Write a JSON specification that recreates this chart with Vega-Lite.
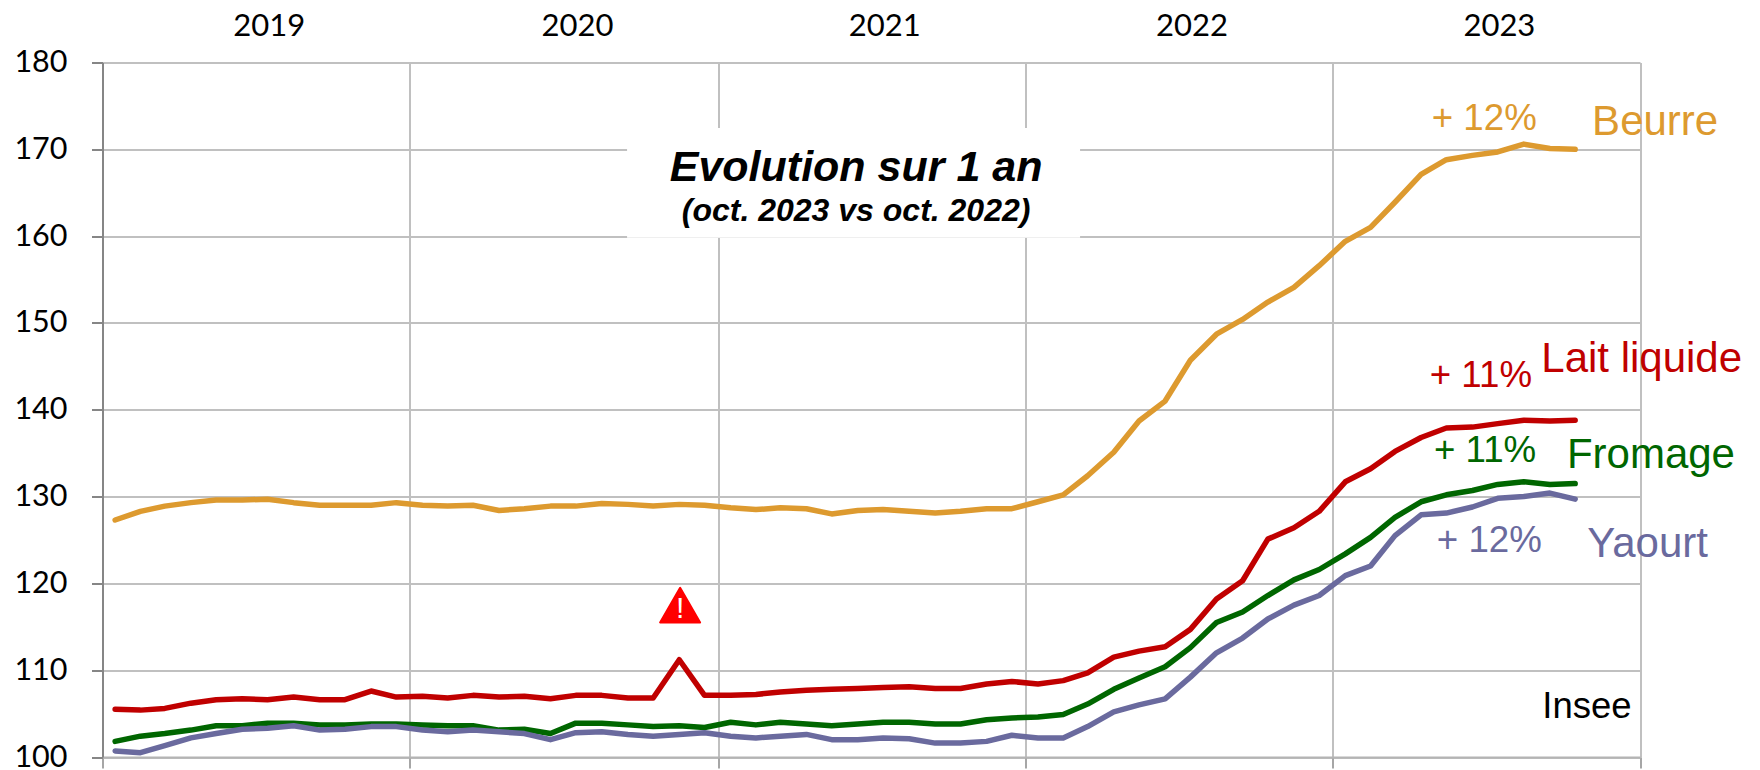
{
"$schema":"https://vega.github.io/schema/vega-lite/v6.json",
"width":1537.5,"height":694.5,
"autosize":"none",
"padding":{"left":102.5,"top":62.5,"right":120,"bottom":13},
"background":"white",
"config":{"view":{"stroke":null}},
"datasets":{
"series":[
{"s":"Beurre","d":"2019-01-16","v":127.3},{"s":"Beurre","d":"2019-02-15","v":128.3},{"s":"Beurre","d":"2019-03-16","v":128.9},{"s":"Beurre","d":"2019-04-16","v":129.3},{"s":"Beurre","d":"2019-05-16","v":129.6},{"s":"Beurre","d":"2019-06-16","v":129.6},{"s":"Beurre","d":"2019-07-16","v":129.7},{"s":"Beurre","d":"2019-08-16","v":129.3},{"s":"Beurre","d":"2019-09-16","v":129.0},{"s":"Beurre","d":"2019-10-16","v":129.0},{"s":"Beurre","d":"2019-11-16","v":129.0},{"s":"Beurre","d":"2019-12-16","v":129.3},
{"s":"Beurre","d":"2020-01-16","v":129.0},{"s":"Beurre","d":"2020-02-15","v":128.9},{"s":"Beurre","d":"2020-03-16","v":129.0},{"s":"Beurre","d":"2020-04-16","v":128.4},{"s":"Beurre","d":"2020-05-16","v":128.6},{"s":"Beurre","d":"2020-06-16","v":128.9},{"s":"Beurre","d":"2020-07-16","v":128.9},{"s":"Beurre","d":"2020-08-16","v":129.2},{"s":"Beurre","d":"2020-09-16","v":129.1},{"s":"Beurre","d":"2020-10-16","v":128.9},{"s":"Beurre","d":"2020-11-16","v":129.1},{"s":"Beurre","d":"2020-12-16","v":129.0},
{"s":"Beurre","d":"2021-01-16","v":128.7},{"s":"Beurre","d":"2021-02-15","v":128.5},{"s":"Beurre","d":"2021-03-16","v":128.7},{"s":"Beurre","d":"2021-04-16","v":128.6},{"s":"Beurre","d":"2021-05-16","v":128.0},{"s":"Beurre","d":"2021-06-16","v":128.4},{"s":"Beurre","d":"2021-07-16","v":128.5},{"s":"Beurre","d":"2021-08-16","v":128.3},{"s":"Beurre","d":"2021-09-16","v":128.1},{"s":"Beurre","d":"2021-10-16","v":128.3},{"s":"Beurre","d":"2021-11-16","v":128.6},{"s":"Beurre","d":"2021-12-16","v":128.6},
{"s":"Beurre","d":"2022-01-16","v":129.4},{"s":"Beurre","d":"2022-02-15","v":130.2},{"s":"Beurre","d":"2022-03-16","v":132.4},{"s":"Beurre","d":"2022-04-16","v":135.1},{"s":"Beurre","d":"2022-05-16","v":138.7},{"s":"Beurre","d":"2022-06-16","v":141.0},{"s":"Beurre","d":"2022-07-16","v":145.7},{"s":"Beurre","d":"2022-08-16","v":148.7},{"s":"Beurre","d":"2022-09-16","v":150.4},{"s":"Beurre","d":"2022-10-16","v":152.4},{"s":"Beurre","d":"2022-11-16","v":154.1},{"s":"Beurre","d":"2022-12-16","v":156.6},
{"s":"Beurre","d":"2023-01-16","v":159.4},{"s":"Beurre","d":"2023-02-15","v":161.0},{"s":"Beurre","d":"2023-03-16","v":163.9},{"s":"Beurre","d":"2023-04-16","v":167.1},{"s":"Beurre","d":"2023-05-16","v":168.8},{"s":"Beurre","d":"2023-06-16","v":169.3},{"s":"Beurre","d":"2023-07-16","v":169.7},{"s":"Beurre","d":"2023-08-16","v":170.6},{"s":"Beurre","d":"2023-09-16","v":170.1},{"s":"Beurre","d":"2023-10-16","v":170.0},

{"s":"Lait liquide","d":"2019-01-16","v":105.5},{"s":"Lait liquide","d":"2019-02-15","v":105.4},{"s":"Lait liquide","d":"2019-03-16","v":105.6},{"s":"Lait liquide","d":"2019-04-16","v":106.2},{"s":"Lait liquide","d":"2019-05-16","v":106.6},{"s":"Lait liquide","d":"2019-06-16","v":106.7},{"s":"Lait liquide","d":"2019-07-16","v":106.6},{"s":"Lait liquide","d":"2019-08-16","v":106.9},{"s":"Lait liquide","d":"2019-09-16","v":106.6},{"s":"Lait liquide","d":"2019-10-16","v":106.6},{"s":"Lait liquide","d":"2019-11-16","v":107.6},{"s":"Lait liquide","d":"2019-12-16","v":106.9},
{"s":"Lait liquide","d":"2020-01-16","v":107.0},{"s":"Lait liquide","d":"2020-02-15","v":106.8},{"s":"Lait liquide","d":"2020-03-16","v":107.1},{"s":"Lait liquide","d":"2020-04-16","v":106.9},{"s":"Lait liquide","d":"2020-05-16","v":107.0},{"s":"Lait liquide","d":"2020-06-16","v":106.7},{"s":"Lait liquide","d":"2020-07-16","v":107.1},{"s":"Lait liquide","d":"2020-08-16","v":107.1},{"s":"Lait liquide","d":"2020-09-16","v":106.8},{"s":"Lait liquide","d":"2020-10-16","v":106.8},{"s":"Lait liquide","d":"2020-11-16","v":111.2},{"s":"Lait liquide","d":"2020-12-16","v":107.1},
{"s":"Lait liquide","d":"2021-01-16","v":107.1},{"s":"Lait liquide","d":"2021-02-15","v":107.2},{"s":"Lait liquide","d":"2021-03-16","v":107.5},{"s":"Lait liquide","d":"2021-04-16","v":107.7},{"s":"Lait liquide","d":"2021-05-16","v":107.8},{"s":"Lait liquide","d":"2021-06-16","v":107.9},{"s":"Lait liquide","d":"2021-07-16","v":108.0},{"s":"Lait liquide","d":"2021-08-16","v":108.1},{"s":"Lait liquide","d":"2021-09-16","v":107.9},{"s":"Lait liquide","d":"2021-10-16","v":107.9},{"s":"Lait liquide","d":"2021-11-16","v":108.4},{"s":"Lait liquide","d":"2021-12-16","v":108.7},
{"s":"Lait liquide","d":"2022-01-16","v":108.4},{"s":"Lait liquide","d":"2022-02-15","v":108.8},{"s":"Lait liquide","d":"2022-03-16","v":109.7},{"s":"Lait liquide","d":"2022-04-16","v":111.5},{"s":"Lait liquide","d":"2022-05-16","v":112.2},{"s":"Lait liquide","d":"2022-06-16","v":112.7},{"s":"Lait liquide","d":"2022-07-16","v":114.7},{"s":"Lait liquide","d":"2022-08-16","v":118.2},{"s":"Lait liquide","d":"2022-09-16","v":120.3},{"s":"Lait liquide","d":"2022-10-16","v":125.1},{"s":"Lait liquide","d":"2022-11-16","v":126.4},{"s":"Lait liquide","d":"2022-12-16","v":128.3},
{"s":"Lait liquide","d":"2023-01-16","v":131.7},{"s":"Lait liquide","d":"2023-02-15","v":133.2},{"s":"Lait liquide","d":"2023-03-16","v":135.2},{"s":"Lait liquide","d":"2023-04-16","v":136.8},{"s":"Lait liquide","d":"2023-05-16","v":137.9},{"s":"Lait liquide","d":"2023-06-16","v":138.0},{"s":"Lait liquide","d":"2023-07-16","v":138.4},{"s":"Lait liquide","d":"2023-08-16","v":138.8},{"s":"Lait liquide","d":"2023-09-16","v":138.7},{"s":"Lait liquide","d":"2023-10-16","v":138.8},

{"s":"Fromage","d":"2019-01-16","v":101.8},{"s":"Fromage","d":"2019-02-15","v":102.4},{"s":"Fromage","d":"2019-03-16","v":102.7},{"s":"Fromage","d":"2019-04-16","v":103.1},{"s":"Fromage","d":"2019-05-16","v":103.6},{"s":"Fromage","d":"2019-06-16","v":103.6},{"s":"Fromage","d":"2019-07-16","v":103.9},{"s":"Fromage","d":"2019-08-16","v":103.9},{"s":"Fromage","d":"2019-09-16","v":103.7},{"s":"Fromage","d":"2019-10-16","v":103.7},{"s":"Fromage","d":"2019-11-16","v":103.8},{"s":"Fromage","d":"2019-12-16","v":103.8},
{"s":"Fromage","d":"2020-01-16","v":103.7},{"s":"Fromage","d":"2020-02-15","v":103.6},{"s":"Fromage","d":"2020-03-16","v":103.6},{"s":"Fromage","d":"2020-04-16","v":103.1},{"s":"Fromage","d":"2020-05-16","v":103.2},{"s":"Fromage","d":"2020-06-16","v":102.7},{"s":"Fromage","d":"2020-07-16","v":103.9},{"s":"Fromage","d":"2020-08-16","v":103.9},{"s":"Fromage","d":"2020-09-16","v":103.7},{"s":"Fromage","d":"2020-10-16","v":103.5},{"s":"Fromage","d":"2020-11-16","v":103.6},{"s":"Fromage","d":"2020-12-16","v":103.4},
{"s":"Fromage","d":"2021-01-16","v":104.0},{"s":"Fromage","d":"2021-02-15","v":103.7},{"s":"Fromage","d":"2021-03-16","v":104.0},{"s":"Fromage","d":"2021-04-16","v":103.8},{"s":"Fromage","d":"2021-05-16","v":103.6},{"s":"Fromage","d":"2021-06-16","v":103.8},{"s":"Fromage","d":"2021-07-16","v":104.0},{"s":"Fromage","d":"2021-08-16","v":104.0},{"s":"Fromage","d":"2021-09-16","v":103.8},{"s":"Fromage","d":"2021-10-16","v":103.8},{"s":"Fromage","d":"2021-11-16","v":104.3},{"s":"Fromage","d":"2021-12-16","v":104.5},
{"s":"Fromage","d":"2022-01-16","v":104.6},{"s":"Fromage","d":"2022-02-15","v":104.9},{"s":"Fromage","d":"2022-03-16","v":106.1},{"s":"Fromage","d":"2022-04-16","v":107.8},{"s":"Fromage","d":"2022-05-16","v":109.1},{"s":"Fromage","d":"2022-06-16","v":110.4},{"s":"Fromage","d":"2022-07-16","v":112.6},{"s":"Fromage","d":"2022-08-16","v":115.5},{"s":"Fromage","d":"2022-09-16","v":116.7},{"s":"Fromage","d":"2022-10-16","v":118.6},{"s":"Fromage","d":"2022-11-16","v":120.4},{"s":"Fromage","d":"2022-12-16","v":121.6},
{"s":"Fromage","d":"2023-01-16","v":123.4},{"s":"Fromage","d":"2023-02-15","v":125.3},{"s":"Fromage","d":"2023-03-16","v":127.6},{"s":"Fromage","d":"2023-04-16","v":129.4},{"s":"Fromage","d":"2023-05-16","v":130.2},{"s":"Fromage","d":"2023-06-16","v":130.7},{"s":"Fromage","d":"2023-07-16","v":131.4},{"s":"Fromage","d":"2023-08-16","v":131.7},{"s":"Fromage","d":"2023-09-16","v":131.4},{"s":"Fromage","d":"2023-10-16","v":131.5},

{"s":"Yaourt","d":"2019-01-16","v":100.7},{"s":"Yaourt","d":"2019-02-15","v":100.5},{"s":"Yaourt","d":"2019-03-16","v":101.3},{"s":"Yaourt","d":"2019-04-16","v":102.2},{"s":"Yaourt","d":"2019-05-16","v":102.7},{"s":"Yaourt","d":"2019-06-16","v":103.2},{"s":"Yaourt","d":"2019-07-16","v":103.3},{"s":"Yaourt","d":"2019-08-16","v":103.6},{"s":"Yaourt","d":"2019-09-16","v":103.1},{"s":"Yaourt","d":"2019-10-16","v":103.2},{"s":"Yaourt","d":"2019-11-16","v":103.5},{"s":"Yaourt","d":"2019-12-16","v":103.5},
{"s":"Yaourt","d":"2020-01-16","v":103.1},{"s":"Yaourt","d":"2020-02-15","v":102.9},{"s":"Yaourt","d":"2020-03-16","v":103.1},{"s":"Yaourt","d":"2020-04-16","v":102.9},{"s":"Yaourt","d":"2020-05-16","v":102.7},{"s":"Yaourt","d":"2020-06-16","v":102.0},{"s":"Yaourt","d":"2020-07-16","v":102.8},{"s":"Yaourt","d":"2020-08-16","v":102.9},{"s":"Yaourt","d":"2020-09-16","v":102.6},{"s":"Yaourt","d":"2020-10-16","v":102.4},{"s":"Yaourt","d":"2020-11-16","v":102.6},{"s":"Yaourt","d":"2020-12-16","v":102.8},
{"s":"Yaourt","d":"2021-01-16","v":102.4},{"s":"Yaourt","d":"2021-02-15","v":102.2},{"s":"Yaourt","d":"2021-03-16","v":102.4},{"s":"Yaourt","d":"2021-04-16","v":102.6},{"s":"Yaourt","d":"2021-05-16","v":102.0},{"s":"Yaourt","d":"2021-06-16","v":102.0},{"s":"Yaourt","d":"2021-07-16","v":102.2},{"s":"Yaourt","d":"2021-08-16","v":102.1},{"s":"Yaourt","d":"2021-09-16","v":101.6},{"s":"Yaourt","d":"2021-10-16","v":101.6},{"s":"Yaourt","d":"2021-11-16","v":101.8},{"s":"Yaourt","d":"2021-12-16","v":102.5},
{"s":"Yaourt","d":"2022-01-16","v":102.2},{"s":"Yaourt","d":"2022-02-15","v":102.2},{"s":"Yaourt","d":"2022-03-16","v":103.5},{"s":"Yaourt","d":"2022-04-16","v":105.2},{"s":"Yaourt","d":"2022-05-16","v":106.0},{"s":"Yaourt","d":"2022-06-16","v":106.7},{"s":"Yaourt","d":"2022-07-16","v":109.2},{"s":"Yaourt","d":"2022-08-16","v":112.0},{"s":"Yaourt","d":"2022-09-16","v":113.7},{"s":"Yaourt","d":"2022-10-16","v":115.9},{"s":"Yaourt","d":"2022-11-16","v":117.5},{"s":"Yaourt","d":"2022-12-16","v":118.6},
{"s":"Yaourt","d":"2023-01-16","v":120.9},{"s":"Yaourt","d":"2023-02-15","v":122.0},{"s":"Yaourt","d":"2023-03-16","v":125.5},{"s":"Yaourt","d":"2023-04-16","v":127.9},{"s":"Yaourt","d":"2023-05-16","v":128.1},{"s":"Yaourt","d":"2023-06-16","v":128.8},{"s":"Yaourt","d":"2023-07-16","v":129.8},{"s":"Yaourt","d":"2023-08-16","v":130.0},{"s":"Yaourt","d":"2023-09-16","v":130.4},{"s":"Yaourt","d":"2023-10-16","v":129.7}
],
"names":[
{"s":"Beurre","t":"Beurre","d":"2024-01-19","v":171.65},
{"s":"Lait liquide","t":"Lait liquide","d":"2024-01-03","v":144.38},
{"s":"Fromage","t":"Fromage","d":"2024-01-14","v":133.32},
{"s":"Yaourt","t":"Yaourt","d":"2024-01-10","v":123.0}
],
"pct":[
{"s":"Beurre","t":"+ 12%","d":"2023-06-30","v":172.2},
{"s":"Lait liquide","t":"+ 11%","d":"2023-06-26","v":142.65},
{"s":"Fromage","t":"+ 11%","d":"2023-07-01","v":134.01},
{"s":"Yaourt","t":"+ 12%","d":"2023-07-06","v":123.57}
],
"years":[
{"t":"2019","d":"2019-07-18","v":183.05},
{"t":"2020","d":"2020-07-18","v":183.05},
{"t":"2021","d":"2021-07-18","v":183.05},
{"t":"2022","d":"2022-07-18","v":183.05},
{"t":"2023","d":"2023-07-18","v":183.05}
]
},
"encoding":{
"x":{"field":"d","type":"temporal","title":null,
"scale":{"type":"utc","domain":["2019-01-01","2024-01-01"]},
"axis":{"values":["2019-01-01","2020-01-01","2021-01-01","2022-01-01","2023-01-01","2024-01-01"],"labels":false,"grid":true,"gridColor":"#C0C0C0","gridWidth":2,"tickColor":"#A6A6A6","tickWidth":2,"tickSize":11,"domainColor":"#B4B4B4","domainWidth":2,"title":null}},
"y":{"field":"v","type":"quantitative","title":null,
"scale":{"domain":[100,180],"nice":false,"zero":false},
"axis":{"values":[100,110,120,130,140,150,160,170,180],"labelFont":"Lato","labelFontSize":30.5,"labelColor":"#000000","labelPadding":24.5,"grid":true,"gridColor":"#C0C0C0","gridWidth":2,"tickColor":"#868686","tickWidth":2,"tickSize":11,"domainColor":"#868686","domainWidth":2,"title":null}}
},
"layer":[
{"data":{"values":[{"d":"2020-09-15","d2":"2022-03-07","v":172.45,"v2":159.8}]},
 "mark":{"type":"rect","fill":"white"},
 "encoding":{"x2":{"field":"d2"},"y2":{"field":"v2"}}},
{"data":{"name":"series"},
 "mark":{"type":"line","strokeWidth":5.5,"strokeCap":"round","strokeJoin":"round","clip":false},
 "encoding":{"color":{"field":"s","type":"nominal","legend":null,"sort":null,
   "scale":{"domain":["Beurre","Lait liquide","Fromage","Yaourt"],"range":["#DD9A2F","#C00000","#006600","#6A6A9E"]}},
   "order":{"field":"d","type":"temporal"}}},
{"data":{"name":"names"},
 "mark":{"type":"text","font":"Liberation Sans","fontSize":42,"align":"center","baseline":"alphabetic"},
 "encoding":{"text":{"field":"t"},"color":{"field":"s","type":"nominal","legend":null,
   "scale":{"domain":["Beurre","Lait liquide","Fromage","Yaourt"],"range":["#DD9A2F","#C00000","#006600","#6A6A9E"]}}}},
{"data":{"name":"pct"},
 "mark":{"type":"text","font":"Liberation Sans","fontSize":36.7,"align":"center","baseline":"alphabetic"},
 "encoding":{"text":{"field":"t"},"color":{"field":"s","type":"nominal","legend":null,
   "scale":{"domain":["Beurre","Lait liquide","Fromage","Yaourt"],"range":["#DD9A2F","#C00000","#006600","#6A6A9E"]}}}},
{"data":{"name":"years"},
 "mark":{"type":"text","font":"Lato","fontSize":31,"align":"center","baseline":"alphabetic","color":"#000000"},
 "encoding":{"text":{"field":"t"}}},
{"data":{"values":[{"t":"Insee","d":"2023-10-30","v":104.48}]},
 "mark":{"type":"text","font":"Liberation Sans","fontSize":36.5,"align":"center","baseline":"alphabetic","color":"#000000"},
 "encoding":{"text":{"field":"t"}}},
{"data":{"values":[{"t":"Evolution sur 1 an","d":"2021-06-14","v":166.38}]},
 "mark":{"type":"text","font":"Liberation Sans","fontSize":43,"fontWeight":"bold","fontStyle":"italic","align":"center","baseline":"alphabetic","color":"#000000"},
 "encoding":{"text":{"field":"t"}}},
{"data":{"values":[{"t":"(oct. 2023 vs oct. 2022)","d":"2021-06-14","v":161.77}]},
 "mark":{"type":"text","font":"Liberation Sans","fontSize":32,"fontWeight":"bold","fontStyle":"italic","align":"center","baseline":"alphabetic","color":"#000000"},
 "encoding":{"text":{"field":"t"}}},
{"data":{"values":[{"d":"2020-11-17","v":117.5}]},
 "mark":{"type":"point","shape":"triangle-up","size":1600,"filled":true,"color":"#FF0000","opacity":1,"stroke":"#FF0000","strokeWidth":2,"strokeJoin":"round"}},
{"data":{"values":[{"t":"!","d":"2020-11-17","v":116.05}]},
 "mark":{"type":"text","font":"Liberation Sans","fontSize":30,"align":"center","baseline":"alphabetic","color":"#FFFFFF"},
 "encoding":{"text":{"field":"t"}}}
]
}
